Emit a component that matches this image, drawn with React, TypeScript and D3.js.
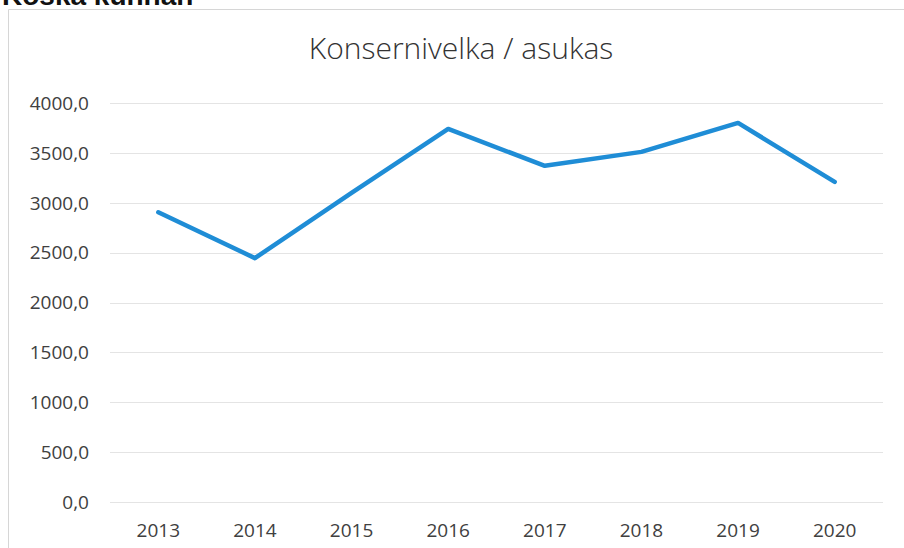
import React, { useEffect, useRef } from "react";
import * as d3 from "d3";

const years = ["2013", "2014", "2015", "2016", "2017", "2018", "2019", "2020"];
const velka = [2905, 2445, 3100, 3740, 3370, 3510, 3800, 3210];
const yTicks = [0, 500, 1000, 1500, 2000, 2500, 3000, 3500, 4000];

const title = "Konsernivelka / asukas";

const LineChart = () => {
  const ref = useRef<HTMLDivElement>(null);

  useEffect(() => {
    const width = 904;
    const height = 548;
    const margin = { top: 103, right: 21, bottom: 46, left: 110 };

    const root = d3.select(ref.current);
    root.selectAll("svg").remove();

    const svg = root
      .append("svg")
      .attr("width", width)
      .attr("height", height)
      .style("display", "block")
      .style("font-family", "'Open Sans', sans-serif");

    svg.append("rect").attr("width", width).attr("height", height).attr("fill", "#fff");

    // heading of the page above the chart, cut by the screenshot
    svg
      .append("text")
      .attr("x", 2)
      .attr("y", 5)
      .attr("font-family", "'Liberation Sans', Arial, sans-serif")
      .attr("font-weight", "bold")
      .attr("font-size", 28)
      .attr("fill", "#111")
      .text("Koska kunnan");

    // chart frame
    svg
      .append("path")
      .attr("d", `M8.5,${height} V9.5 H${width}`)
      .attr("fill", "none")
      .attr("stroke", "#d6d6d6")
      .attr("stroke-width", 1);

    const x = d3
      .scaleBand()
      .domain(years)
      .range([margin.left, width - margin.right]);

    const y = d3
      .scaleLinear()
      .domain([0, 4000])
      .range([height - margin.bottom, margin.top]);

    // gridlines
    svg
      .append("g")
      .selectAll("line")
      .data(yTicks)
      .join("line")
      .attr("x1", margin.left)
      .attr("x2", width - margin.right)
      .attr("y1", d => Math.round(y(d)) + 0.5)
      .attr("y2", d => Math.round(y(d)) + 0.5)
      .attr("stroke", "#e4e4e4")
      .attr("stroke-width", 1);

    // y axis labels
    const fmt = (d: number) => d3.format(".1f")(d).replace(".", ",");
    svg
      .append("g")
      .selectAll("text")
      .data(yTicks)
      .join("text")
      .attr("x", 89)
      .attr("y", d => y(d))
      .attr("dy", "0.36em")
      .attr("text-anchor", "end")
      .attr("font-size", 19)
      .attr("fill", "#404040")
      .text(d => fmt(d));

    // x axis labels
    svg
      .append("g")
      .selectAll("text")
      .data(years)
      .join("text")
      .attr("x", d => (x(d) ?? 0) + x.bandwidth() / 2)
      .attr("y", 537)
      .attr("text-anchor", "middle")
      .attr("font-size", 19)
      .attr("fill", "#404040")
      .text(d => d);

    // title
    svg
      .append("text")
      .attr("x", 461)
      .attr("y", 59)
      .attr("text-anchor", "middle")
      .attr("font-size", 30)
      .attr("font-weight", 300)
      .attr("fill", "#333")
      .text(title);

    // the line
    const line = d3
      .line<number>()
      .x((_, i) => (x(years[i]) ?? 0) + x.bandwidth() / 2)
      .y(d => y(d));

    svg
      .append("path")
      .datum(velka)
      .attr("d", line)
      .attr("fill", "none")
      .attr("stroke", "#1f8dd6")
      .attr("stroke-width", 4.5)
      .attr("stroke-linejoin", "round")
      .attr("stroke-linecap", "round");
  }, []);

  return <div ref={ref}></div>;
};

export default function App() {
  return (
    <div style={{ position: "fixed", left: 0, top: 0 }}>
      <LineChart />
    </div>
  );
}
